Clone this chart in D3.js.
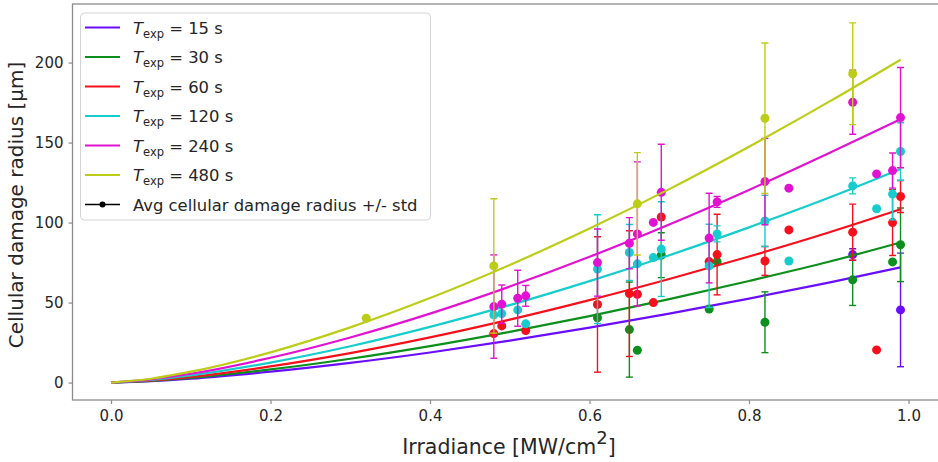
<!DOCTYPE html>
<html>
<head>
<meta charset="utf-8">
<script src="https://cdn.jsdelivr.net/npm/d3@7"></script>
<style>
  body { margin: 0; background: #fff; }
  svg { display: block; font-family: "DejaVu Sans", sans-serif; }
</style>
</head>
<body>
<svg id="chart" width="938" height="462"></svg>
<script>
/* FITTED CURVES AT THESE IRRADIANCES */
var curveX = [0, 0.05, 0.1, 0.2, 0.3, 0.4, 0.5, 0.6, 0.7, 0.8, 0.9, 0.99];
var fit15  = [0, 0.9, 2.4, 6.8, 12.3, 18.8, 26.2, 34.3, 43.1, 52.5, 62.5, 72];
var fit30  = [0, 1.0, 2.9, 8.2, 14.9, 22.8, 31.7, 41.5, 52.1, 63.5, 75.5, 87.5];
var fit60  = [0, 1.3, 3.6, 10.1, 18.4, 28.2, 39.3, 51.5, 64.7, 78.8, 93.8, 108.3];
var fit120 = [0, 1.6, 4.5, 12.5, 22.7, 34.8, 48.4, 63.4, 79.6, 97.0, 115.5, 133.5];
var fit240 = [0, 2.0, 5.5, 15.5, 28.2, 43.1, 60.0, 78.6, 98.8, 120.4, 143.3, 164.5];
var fit480 = [0, 2.4, 6.8, 18.9, 34.5, 52.8, 73.5, 96.3, 120.9, 147.4, 175.4, 201.8];

/* MEASURED POINTS: [irradiance, avg radius, std] (std 0 = no bar) */
var meas15 = [[0.93, 80, 3.6], [0.99, 45.4, 35.5]];
var meas30 = [[0.61, 40.5, 0], [0.65, 33.1, 29.7], [0.66, 20.2, 0], [0.69, 79.6, 14],
  [0.75, 45.9, 0], [0.76, 75.6, 0], [0.82, 37.7, 19], [0.93, 64.2, 16],
  [0.98, 75.4, 0], [0.99, 86.1, 23]];
var meas60 = [[0.48, 30.6, 0], [0.49, 35.4, 0], [0.52, 32.5, 0], [0.61, 48.8, 42.3],
  [0.65, 55.6, 39.3], [0.66, 55.2, 0], [0.68, 50, 0], [0.69, 103.5, 0],
  [0.75, 75.6, 0], [0.76, 80, 25.2], [0.82, 76, 9], [0.85, 95.4, 0],
  [0.93, 94, 17.5], [0.96, 20.4, 0], [0.98, 100, 20.6], [0.99, 116.3, 10]];
var meas120 = [[0.48, 42.3, 0], [0.49, 43.1, 0], [0.51, 45.4, 0], [0.52, 36.7, 0],
  [0.61, 70.9, 34], [0.65, 81.3, 17.5], [0.66, 74.2, 0], [0.68, 78.1, 0],
  [0.69, 83.4, 29.6], [0.75, 72.9, 26], [0.76, 92.9, 5], [0.82, 101, 16],
  [0.85, 76, 0], [0.93, 122.9, 5], [0.96, 108.6, 0], [0.98, 117.8, 16], [0.99, 144.4, 18]];
var meas240 = [[0.48, 47.5, 32.3], [0.49, 49, 12], [0.51, 52.7, 17.5], [0.52, 54.2, 6.5],
  [0.61, 75, 21], [0.65, 87.1, 16], [0.66, 92.9, 45], [0.68, 100.1, 0],
  [0.69, 118.9, 30], [0.75, 90.3, 28], [0.76, 112.9, 3.4], [0.82, 125.6, 27],
  [0.85, 121.5, 0], [0.93, 175.2, 20], [0.96, 130.4, 0], [0.98, 132.5, 11], [0.99, 165.6, 31.3]];
var meas480 = [[0.32, 40.2, 0], [0.48, 72.9, 42], [0.66, 111.7, 32], [0.82, 165.2, 47],
  [0.93, 193, 31.8]];

var expTimes = ["15", "30", "60", "120", "240", "480"];
var colors = ["#6a0dff", "#0c8f1c", "#f5101c", "#16cccc", "#e212d2", "#bccd17"];

var xTicks = [0, 0.2, 0.4, 0.6, 0.8, 1.0];
var yTicks = [0, 50, 100, 150, 200];

var series = [
  { t: expTimes[0], fit: fit15,  meas: meas15,  color: colors[0] },
  { t: expTimes[1], fit: fit30,  meas: meas30,  color: colors[1] },
  { t: expTimes[2], fit: fit60,  meas: meas60,  color: colors[2] },
  { t: expTimes[3], fit: fit120, meas: meas120, color: colors[3] },
  { t: expTimes[4], fit: fit240, meas: meas240, color: colors[4] },
  { t: expTimes[5], fit: fit480, meas: meas480, color: colors[5] }
];

/* SCALES */
var plotL = 72.5, plotR = 940, plotT = 4, plotB = 400;
var x = d3.scaleLinear().domain([-0.0483, 1.0395]).range([plotL, plotR]);
var y = d3.scaleLinear().domain([-10.9, 236.6]).range([plotB, plotT]);

var svg = d3.select("#chart");
var spineColor = "#8c8c8c";

svg.append("defs").append("clipPath").attr("id", "clip")
  .append("rect").attr("x", plotL).attr("y", plotT)
  .attr("width", plotR - plotL).attr("height", plotB - plotT);

/* AXES */
var xAxis = svg.append("g").attr("transform", "translate(0," + plotB + ")")
  .call(d3.axisBottom(x).tickValues(xTicks).tickFormat(d3.format(".1f"))
    .tickSize(4).tickSizeOuter(0).tickPadding(6));
var yAxis = svg.append("g").attr("transform", "translate(" + plotL + ",0)")
  .call(d3.axisLeft(y).tickValues(yTicks).tickSize(4).tickSizeOuter(0).tickPadding(5));

[xAxis, yAxis].forEach(function(ax) {
  ax.select(".domain").remove();
  ax.selectAll(".tick line").attr("stroke", spineColor).attr("stroke-width", 1.2);
  ax.selectAll(".tick text").attr("fill", "#262626")
    .style("font-family", "DejaVu Sans").style("font-size", "15px");
});

/* FRAME */
svg.append("rect").attr("x", plotL).attr("y", plotT)
  .attr("width", plotR - plotL).attr("height", plotB - plotT)
  .attr("fill", "none").attr("stroke", spineColor).attr("stroke-width", 1.3);

/* AXIS LABELS */
var xLab = svg.append("text").attr("x", 509).attr("y", 454)
  .attr("text-anchor", "middle").attr("fill", "#262626").style("font-size", "20.5px");
xLab.append("tspan").text("Irradiance [MW/cm");
xLab.append("tspan").attr("dy", -10).style("font-size", "18px").text("2");
xLab.append("tspan").attr("dy", 10).text("]");

svg.append("text")
  .attr("transform", "translate(22.5,205) rotate(-90)")
  .attr("text-anchor", "middle").attr("fill", "#262626").style("font-size", "20px")
  .text("Cellular damage radius [\u00b5m]");

/* DATA */
var plot = svg.append("g").attr("clip-path", "url(#clip)");
var line = d3.line()
  .x(function(d, i) { return x(curveX[i]); })
  .y(function(d) { return y(d); })
  .curve(d3.curveMonotoneX);

series.forEach(function(s) {
  var g = plot.append("g");
  g.append("path").datum(s.fit).attr("d", line)
    .attr("fill", "none").attr("stroke", s.color).attr("stroke-width", 2.2);

  var bars = s.meas.filter(function(d) { return d[2] > 0; });
  var eb = g.selectAll("g.eb").data(bars).enter().append("g")
    .attr("stroke", s.color).attr("stroke-width", 1.4);
  eb.append("line")
    .attr("x1", function(d) { return x(d[0]); }).attr("x2", function(d) { return x(d[0]); })
    .attr("y1", function(d) { return y(d[1] - d[2]); }).attr("y2", function(d) { return y(d[1] + d[2]); });
  eb.append("line")
    .attr("x1", function(d) { return x(d[0]) - 3.5; }).attr("x2", function(d) { return x(d[0]) + 3.5; })
    .attr("y1", function(d) { return y(d[1] + d[2]); }).attr("y2", function(d) { return y(d[1] + d[2]); });
  eb.append("line")
    .attr("x1", function(d) { return x(d[0]) - 3.5; }).attr("x2", function(d) { return x(d[0]) + 3.5; })
    .attr("y1", function(d) { return y(d[1] - d[2]); }).attr("y2", function(d) { return y(d[1] - d[2]); });

  g.selectAll("circle").data(s.meas).enter().append("circle")
    .attr("cx", function(d) { return x(d[0]); })
    .attr("cy", function(d) { return y(d[1]); })
    .attr("r", 4.5).attr("fill", s.color);
});

/* LEGEND */
var leg = svg.append("g");
leg.append("rect").attr("x", 80.5).attr("y", 13).attr("width", 350).attr("height", 207)
  .attr("rx", 4).attr("fill", "#fff").attr("fill-opacity", 0.85)
  .attr("stroke", "#d4d4d4").attr("stroke-width", 1);

series.forEach(function(s, i) {
  var ry = 27.5 + i * 29.5;
  leg.append("line").attr("x1", 85).attr("x2", 120).attr("y1", ry).attr("y2", ry)
    .attr("stroke", s.color).attr("stroke-width", 2.2);
  var t = leg.append("text").attr("x", 133).attr("y", ry + 6)
    .attr("fill", "#262626").style("font-size", "16.4px");
  t.append("tspan").style("font-style", "italic").text("T");
  t.append("tspan").attr("dy", 4).style("font-size", "11.5px").text("exp");
  t.append("tspan").attr("dy", -4).text(" = " + s.t + " s");
});

var lastY = 27.5 + 6 * 29.5;
leg.append("line").attr("x1", 85).attr("x2", 120).attr("y1", lastY).attr("y2", lastY)
  .attr("stroke", "#000").attr("stroke-width", 1.6);
leg.append("circle").attr("cx", 102.5).attr("cy", lastY).attr("r", 3).attr("fill", "#000");
leg.append("text").attr("x", 133).attr("y", lastY + 6)
  .attr("fill", "#262626").style("font-size", "16.4px")
  .text("Avg cellular damage radius +/- std");
</script>
</body>
</html>
